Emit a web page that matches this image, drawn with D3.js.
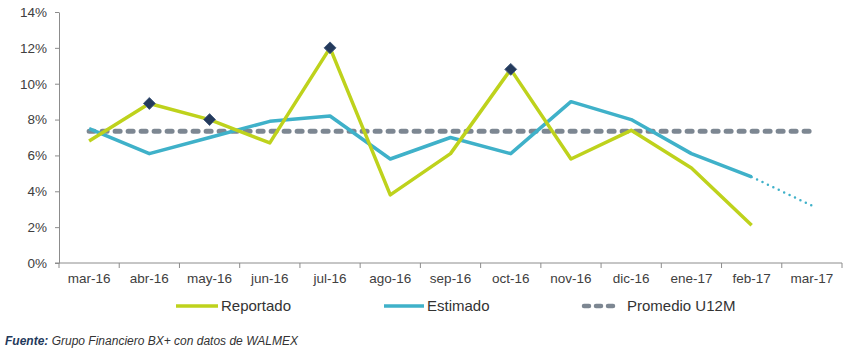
<!DOCTYPE html>
<html>
<head>
<meta charset="utf-8">
<script src="https://cdn.jsdelivr.net/npm/d3@7"></script>
<style>
  html, body { margin: 0; padding: 0; background: #fff; }
  svg { display: block; font-family: "Liberation Sans", Arial, sans-serif; }
</style>
</head>
<body>
<svg id="chart" width="850" height="350"></svg>
<script>
const categories = ["mar-16","abr-16","may-16","jun-16","jul-16","ago-16","sep-16","oct-16","nov-16","dic-16","ene-17","feb-17","mar-17"];
const reportado = [6.8, 8.9, 8.0, 6.7, 12.0, 3.8, 6.1, 10.8, 5.8, 7.4, 5.3, 2.1, null];
const estimado  = [7.5, 6.1, 7.0, 7.9, 8.2, 5.8, 7.0, 6.1, 9.0, 8.0, 6.1, 4.8, null];
const estimadoProy = [null, null, null, null, null, null, null, null, null, null, null, 4.8, 3.2];
const promedio  = [7.35, 7.35, 7.35, 7.35, 7.35, 7.35, 7.35, 7.35, 7.35, 7.35, 7.35, 7.35, 7.35];
const markedMonths = ["abr-16", "may-16", "jul-16", "oct-16"];
const yTicks = [0, 2, 4, 6, 8, 10, 12, 14];
const legendLabels = ["Reportado", "Estimado", "Promedio U12M"];

const svg = d3.select("#chart");
const colR = "#bed21c", colE = "#3fb1c9", colP = "#7d8792", colM = "#243a5c";

const x = d3.scaleBand().domain(categories).range([59, 842]).padding(0);
const y = d3.scaleLinear().domain([0, 14]).range([263, 12]);
const cx = d => x(d) + x.bandwidth() / 2;

// Y axis
const yAxis = svg.append("g").attr("transform", "translate(59,0)")
  .call(d3.axisLeft(y).tickValues(yTicks).tickFormat(d => d + "%").tickSize(4).tickSizeOuter(0));
yAxis.select(".domain").attr("stroke", "#8c8c8c");
yAxis.selectAll(".tick line").attr("stroke", "#8c8c8c");
yAxis.selectAll("text").attr("font-size", 13.5).attr("fill", "#404040").attr("x", -12)
  .attr("font-family", "Liberation Sans, Arial, sans-serif");

// X axis
const xAxis = svg.append("g").attr("transform", "translate(0,263)")
  .call(d3.axisBottom(x).tickSize(0).tickSizeOuter(0));
xAxis.select(".domain").remove();
xAxis.append("line").attr("x1", 55).attr("x2", 842).attr("stroke", "#8c8c8c");
xAxis.selectAll(".tick text").attr("font-size", 13.5).attr("fill", "#404040").attr("dy", "1.25em")
  .attr("font-family", "Liberation Sans, Arial, sans-serif");
// boundary tick marks
categories.forEach((c, i) => {
  xAxis.append("line").attr("x1", x(c)).attr("x2", x(c)).attr("y1", 0).attr("y2", 5).attr("stroke", "#8c8c8c");
});
xAxis.append("line").attr("x1", x.range()[1]).attr("x2", x.range()[1]).attr("y1", 0).attr("y2", 5).attr("stroke", "#8c8c8c");

const line = d3.line().defined(d => d.v != null).x(d => cx(d.c)).y(d => y(d.v));
const toPts = arr => categories.map((c, i) => ({ c, v: arr[i] }));

// Promedio
svg.append("path").datum(toPts(promedio)).attr("d", line)
  .attr("fill", "none").attr("stroke", colP).attr("stroke-width", 5)
  .attr("stroke-dasharray", "5,8").attr("stroke-linecap", "round");

// Estimado
svg.append("path").datum(toPts(estimado)).attr("d", line)
  .attr("fill", "none").attr("stroke", colE).attr("stroke-width", 3.5).attr("stroke-linejoin", "round");
svg.append("path").datum(toPts(estimadoProy)).attr("d", line)
  .attr("fill", "none").attr("stroke", colE).attr("stroke-width", 2.5)
  .attr("stroke-dasharray", "0,6").attr("stroke-linecap", "round");

// Reportado
svg.append("path").datum(toPts(reportado)).attr("d", line)
  .attr("fill", "none").attr("stroke", colR).attr("stroke-width", 3.5).attr("stroke-linejoin", "round");

// Markers
svg.selectAll(".mk").data(toPts(reportado).filter(d => markedMonths.includes(d.c)))
  .enter().append("path")
  .attr("transform", d => `translate(${cx(d.c)},${y(d.v)})`)
  .attr("d", d3.symbol().type(d3.symbolDiamond2).size(90))
  .attr("fill", colM).attr("stroke", "#4a6182").attr("stroke-width", 1);

// Legend
const legend = svg.append("g").attr("font-size", 15).attr("fill", "#333");
const legendItems = [
  { label: legendLabels[0], x1: 176, x2: 218, tx: 221, color: colR, dash: null, w: 3.5 },
  { label: legendLabels[1], x1: 384, x2: 424, tx: 427, color: colE, dash: null, w: 3.5 },
  { label: legendLabels[2], x1: 584, x2: 619, tx: 627, color: colP, dash: "5,7", w: 4.5 }
];
legendItems.forEach(it => {
  const l = legend.append("line").attr("x1", it.x1).attr("x2", it.x2).attr("y1", 306).attr("y2", 306)
    .attr("stroke", it.color).attr("stroke-width", it.w);
  if (it.dash) l.attr("stroke-dasharray", it.dash).attr("stroke-linecap", "round");
  legend.append("text").attr("x", it.tx).attr("y", 311).text(it.label).attr("fill", "#333");
});

// Footer
const foot = svg.append("text").attr("x", 5).attr("y", 345).attr("font-size", 12).attr("font-style", "italic");
foot.append("tspan").attr("font-weight", "bold").attr("fill", "#1f3a5c").text("Fuente:");
foot.append("tspan").attr("fill", "#333").text(" Grupo Financiero BX+ con datos de WALMEX");
</script>
</body>
</html>
